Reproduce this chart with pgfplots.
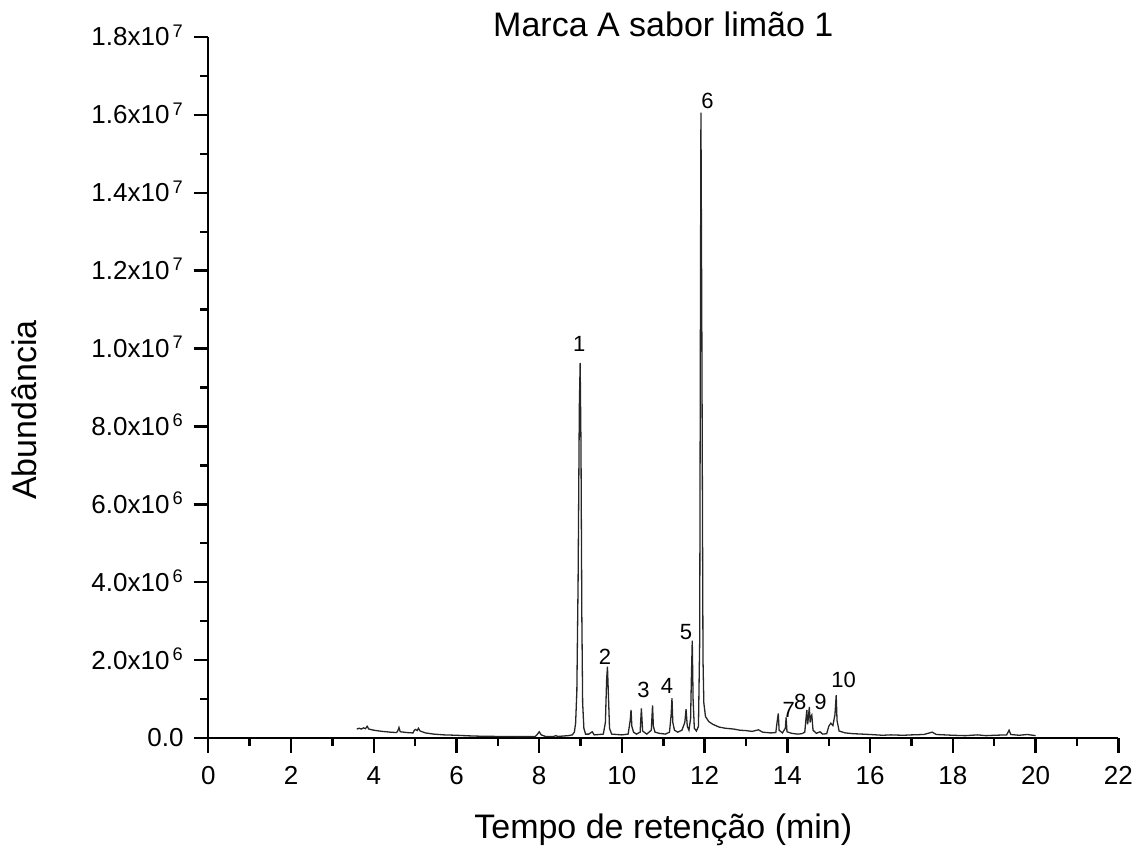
\documentclass[border=0pt]{standalone}
\usepackage{fontspec}
\setmainfont{Liberation Sans}
\usepackage{pgfplots}
\pgfplotsset{compat=1.18}

\pgfplotstableread{
t      ab
3.59   2.3e5
3.65   2.5e5
3.70   2.3e5
3.75   2.6e5
3.80   2.4e5
3.84   3.0e5
3.88   2.3e5
4.00   2.0e5
4.20   1.7e5
4.40   1.5e5
4.55   1.4e5
4.58   1.8e5
4.61   2.7e5
4.64   1.6e5
4.80   1.4e5
4.95   1.3e5
4.98   2.0e5
5.01   2.2e5
5.05   1.9e5
5.08   2.5e5
5.12   1.8e5
5.25   1.3e5
5.45   1.0e5
5.70   0.8e5
6.00   0.7e5
6.30   0.55e5
6.60   0.45e5
7.00   0.40e5
7.50   0.35e5
7.90   0.35e5
7.96   1.0e5
8.00   1.6e5
8.05   0.8e5
8.15   0.4e5
8.35   0.4e5
8.40   0.6e5
8.45   0.4e5
8.70   0.6e5
8.80   0.8e5
8.85   1.5e5
8.88   3.8e5
8.91   1.2e6
8.94   4.0e6
8.97   8.5e6
8.99   9.63e6
9.01   7.5e6
9.03   3.2e6
9.05   9.0e5
9.08   2.5e5
9.12   1.0e5
9.20   1.0e5
9.28   1.6e5
9.33   0.8e5
9.45   0.9e5
9.55   1.0e5
9.60   4.0e5
9.63   1.5e6
9.65   1.83e6
9.67   1.2e6
9.70   2.5e5
9.75   1.0e5
10.00  0.8e5
10.15  1.0e5
10.20  4.5e5
10.22  7.2e5
10.24  3.0e5
10.28  1.5e5
10.35  1.0e5
10.44  1.5e5
10.47  7.6e5
10.50  1.8e5
10.60  1.0e5
10.71  2.0e5
10.74  8.4e5
10.76  3.0e5
10.80  1.5e5
10.90  1.2e5
11.05  1.0e5
11.15  1.5e5
11.19  6.0e5
11.21  1.02e6
11.23  4.0e5
11.27  2.0e5
11.35  1.5e5
11.45  2.0e5
11.52  4.0e5
11.55  7.4e5
11.58  3.0e5
11.62  2.0e5
11.66  5.0e5
11.68  1.6e6
11.70  2.5e6
11.72  1.0e6
11.75  2.5e5
11.80  1.8e5
11.85  3.0e5
11.88  2.5e6
11.90  1.2e7
11.91  1.606e7
11.93  1.1e7
11.95  4.9e6
11.96  2.0e6
11.98  9.0e5
12.02  5.5e5
12.10  4.2e5
12.20  3.5e5
12.35  2.8e5
12.50  2.5e5
12.70  2.3e5
12.85  2.0e5
13.00  1.9e5
13.15  1.7e5
13.30  2.1e5
13.40  1.5e5
13.60  1.3e5
13.72  1.4e5
13.75  4.0e5
13.78  6.3e5
13.80  2.0e5
13.88  1.3e5
13.95  2.5e5
13.97  5.3e5
13.99  1.6e5
14.10  1.2e5
14.25  1.0e5
14.35  1.1e5
14.42  1.5e5
14.45  5.0e5
14.47  7.2e5
14.49  3.5e5
14.51  5.5e5
14.53  8.0e5
14.55  4.0e5
14.57  5.5e5
14.59  5.9e5
14.62  2.0e5
14.70  1.2e5
14.79  1.6e5
14.85  1.0e5
14.95  1.1e5
15.00  3.0e5
15.05  3.8e5
15.10  3.2e5
15.15  6.0e5
15.18  1.1e6
15.20  4.5e5
15.25  1.8e5
15.40  1.3e5
15.60  1.1e5
16.00  0.9e5
16.30  0.7e5
16.50  0.8e5
16.80  0.7e5
17.00  0.8e5
17.30  0.9e5
17.50  1.5e5
17.60  0.9e5
18.00  0.7e5
18.30  0.6e5
18.60  0.8e5
18.80  0.6e5
19.00  0.7e5
19.30  0.8e5
19.36  2.0e5
19.40  0.9e5
19.60  0.7e5
19.80  0.9e5
20.00  0.6e5
}\chrom

\begin{document}
\begin{tikzpicture}
\useasboundingbox (-104.15pt,-56pt) rectangle (465.85pt,369pt);
\begin{axis}[
    at={(0,0)}, anchor=south west,
    scale only axis, width=455pt, height=350.5pt,
    xmin=0, xmax=22, ymin=0, ymax=1.8e7,
    axis x line*=bottom, axis y line*=left,
    axis line style={-, line width=1.2pt},
    tick style={line width=1.2pt, black},
    tick align=outside,
    major tick length=7.3pt, minor tick length=4pt,
    xtick={0,2,...,22}, minor x tick num=1,
    ytick={0,2e6,4e6,6e6,8e6,1e7,1.2e7,1.4e7,1.6e7,1.8e7}, minor y tick num=1,
    scaled y ticks=false,
    yticklabels={0.0,
      2.0x10\smash{\textsuperscript{\,6}}, 4.0x10\smash{\textsuperscript{\,6}},
      6.0x10\smash{\textsuperscript{\,6}}, 8.0x10\smash{\textsuperscript{\,6}},
      1.0x10\smash{\textsuperscript{\,7}}, 1.2x10\smash{\textsuperscript{\,7}},
      1.4x10\smash{\textsuperscript{\,7}}, 1.6x10\smash{\textsuperscript{\,7}},
      1.8x10\smash{\textsuperscript{\,7}}},
    /pgf/number format/assume math mode=true,
    tick label style={font=\fontsize{13}{15}\selectfont},
    xticklabel style={yshift=-3.5pt},
    yticklabel style={xshift=-1.5pt},
    title={Marca A sabor limão 1},
    every axis title/.style={at={(axis description cs:0.5,1)}, anchor=base,
      font=\fontsize{17}{20}\selectfont},
    xlabel={Tempo de retenção (min)},
    every axis x label/.style={at={(axis description cs:0.5,-0.1427)}, anchor=base,
      font=\fontsize{17}{20}\selectfont},
    ylabel={Abundância},
    every axis y label/.style={at={(axis description cs:-0.202,0.468)}, anchor=center,
      rotate=90, font=\fontsize{17}{20}\selectfont},
    clip=false,
]
\addplot[black!85, line width=0.65pt, mark=none] table[x=t, y=ab] {\chrom};
\begin{scope}[every node/.style={font=\fontsize{11}{13}\selectfont, inner sep=0pt}]
\node at (axis cs:8.97,1.012e7) {1};
\node at (axis cs:9.59,2.09e6) {2};
\node at (axis cs:10.52,1.233e6) {3};
\node at (axis cs:11.09,1.336e6) {4};
\node at (axis cs:11.55,2.73e6) {5};
\node at (axis cs:12.07,1.637e7) {6};
\node at (axis cs:14.03,7.19e5) {7};
\node at (axis cs:14.31,9.32e5) {8};
\node at (axis cs:14.80,9.32e5) {9};
\node at (axis cs:15.36,1.49e6) {10};
\end{scope}
\end{axis}
\end{tikzpicture}
\end{document}
